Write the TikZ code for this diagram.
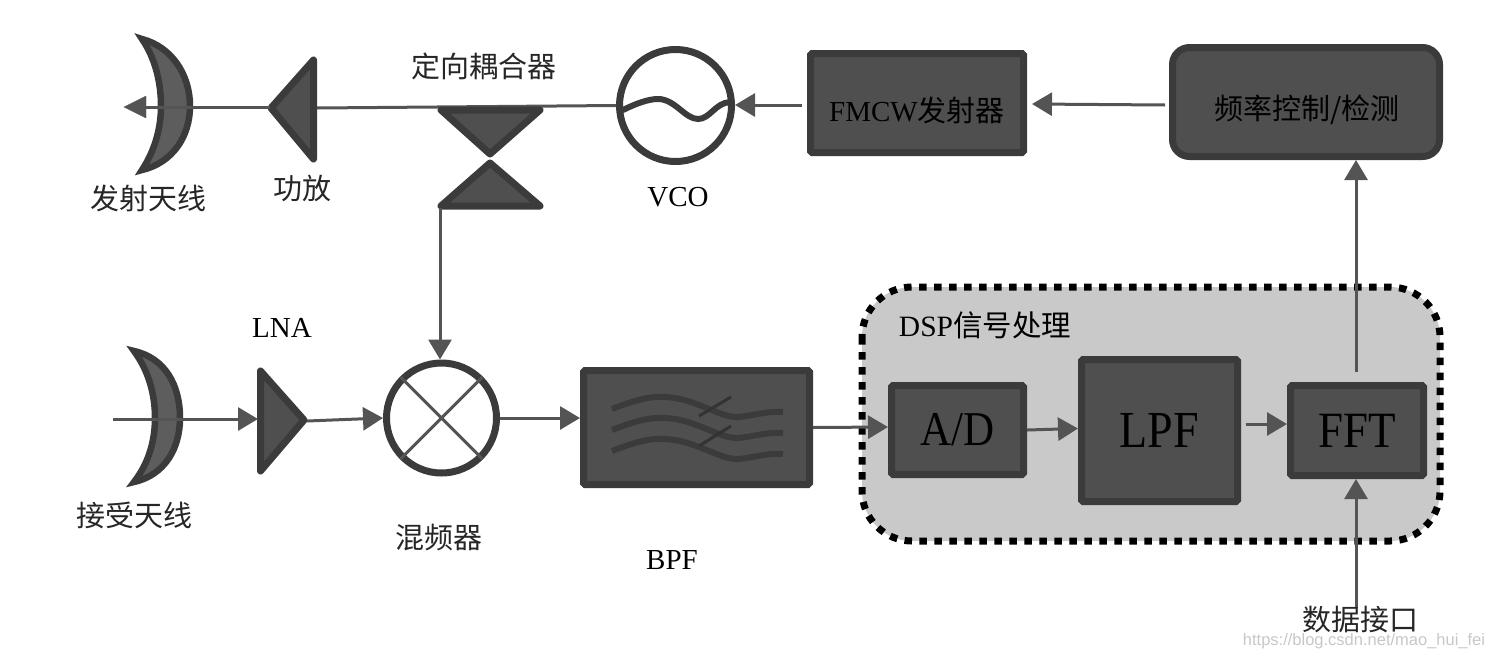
\documentclass[tikz,border=0pt]{standalone}
\usepackage{fontspec}
\usepackage{graphicx}
\setmainfont{Liberation Serif}
\setsansfont{Liberation Sans}
\newfontfamily\cjk{Noto Sans CJK SC}
\usetikzlibrary{arrows.meta}
\definecolor{fillg}{gray}{0.31}
\definecolor{edgeg}{gray}{0.23}
\definecolor{lineg}{gray}{0.33}
\definecolor{panelg}{gray}{0.79}
\newcommand{\tall}[1]{\scalebox{1}[1.13]{#1}}
\tikzset{
 box/.style={draw=edgeg,fill=fillg,line width=7pt,rounded corners=1.5pt,inner sep=0pt,text=black},
 sym/.style={draw=edgeg,fill=fillg,line width=7pt,line join=round},
 horn/.style={draw=edgeg,fill=fillg!92!white,line width=6.5pt,line join=miter,miter limit=3},
 ring/.style={draw=edgeg,line width=7pt,fill=white,circle,inner sep=0pt,minimum size=112pt},
 conn/.style={draw=lineg,line width=3pt,-{Triangle[length=20pt,width=23pt]}},
 plain/.style={draw=lineg,line width=3pt},
 wave/.style={draw=edgeg,line width=6pt},
 tick/.style={draw=black!80,line width=3pt},
 lab/.style={font=\fontsize{29}{31}\selectfont\cjk,text=black!85,inner sep=0pt},
 lat/.style={font=\fontsize{29}{31}\selectfont,text=black,inner sep=0pt},
}
\begin{document}
\begin{tikzpicture}[x=1pt,y=-1pt]
\useasboundingbox (0,0) rectangle (1488,659);
% DSP panel
\draw[fill=panelg,draw=black,line width=7pt,dash pattern=on 7.5pt off 7.5pt,rounded corners=50pt] (862,287) rectangle (1440,541);
% boxes
\node[box,minimum width=213pt,minimum height=99pt] (fmcw) at (917,103) {};
\node[lat,text=black] (fmcwT) at (917,110) {FMCW{\cjk 发射器}};
\node[box,rounded corners=17pt,minimum width=267pt,minimum height=109pt] (ctrl) at (1306,102) {};
\node[lab,text=black] (ctrlT) at (1307,110) {频率控制/检测};
\node[box,minimum width=226pt,minimum height=114pt] (bpf) at (696.5,427.5) {};
\node[box,minimum width=132pt,minimum height=89pt] (ad) at (957.5,430) {\tall{\fontsize{43}{45}\selectfont A/D}};
\node[box,minimum width=156pt,minimum height=142pt] (lpf) at (1159.5,430.5) {\tall{\fontsize{46}{48}\selectfont LPF}};
\node[box,minimum width=133pt,minimum height=90pt] (fft) at (1357,430.5) {\tall{\fontsize{45}{47}\selectfont FFT}};
% BPF waves
\foreach \dy in {0,21,42}{
 \draw[wave] (612,{409+\dy}) .. controls (635,{400+\dy}) and (650,{396+\dy}) .. (665,{397+\dy}) .. controls (695,{398+\dy}) and (720,{418+\dy}) .. (738,{417+\dy}) .. controls (752,{416+\dy}) and (765,{411+\dy}) .. (783,{412+\dy});
}
\draw[tick] (699,416) -- (731,397);
\draw[tick] (699,446) -- (731,426);
% antennas
\draw[horn] (142,39) .. controls (172,47) and (190,75) .. (190,106) .. controls (190,137) and (172,163) .. (142,170) .. controls (155,150) and (161,128) .. (161,106) .. controls (161,82) and (155,58) .. (142,39) -- cycle;
\draw[horn] (134,351) .. controls (165,358) and (180,385) .. (180,418) .. controls (180,448) and (165,475) .. (134,482) .. controls (148,464) and (155,442) .. (155,418) .. controls (155,393) and (148,370) .. (134,351) -- cycle;
% triangles
\draw[sym] (313.5,60) -- (271,108) -- (313.5,159) -- cycle;
\coordinate (paL) at (270,107); \coordinate (paR) at (317,108);
% connectors behind the coupler and the VCO
\node[ring] (vco) at (675.5,105.5) {};
\draw[plain] (paR) -- (vco.west);
\draw[sym] (441,110) -- (540,110) -- (490,154) -- cycle;
\draw[sym] (441,206) -- (540,206) -- (490,163) -- cycle; \coordinate (cplB) at (440,208);
\draw[sym] (260.5,371) -- (304,420) -- (260.5,471) -- cycle;
\coordinate (lnaL) at (258,419); \coordinate (lnaR) at (307,421);
% VCO wave
\draw[wave,line cap=round] (623,110) .. controls (635,104) and (648,99) .. (658,99) .. controls (675,99) and (685,119) .. (698,119) .. controls (710,119) and (715,103) .. (730,102);
% Mixer
\node[ring,minimum size=110pt] (mix) at (441.5,418) {};
\draw[plain] (mix.45) -- (mix.225) (mix.135) -- (mix.315);
% connectors
\coordinate (txEnd) at (146,107);
\coordinate (rxStart) at (113,419);
\coordinate (dataIn) at (1356,608);
\coordinate (fftOut) at (1356,372);
\coordinate (lpfOut) at (1246,424);
\coordinate (fmcwOut) at (802,105);
\coordinate (ctrlOut) at (1165,105);
\coordinate (ctrlIn) at (1032,104);
\draw[plain] (paL) -- (txEnd);
\draw[lineg,fill=lineg] (124,107) -- (146,96) -- (146,118) -- cycle;
\draw[conn] (fmcwOut) -- (vco.east |- fmcwOut);
\draw[conn] (ctrlOut) -- (ctrlIn);
\draw[conn] (cplB) -- (mix.north -| cplB);
\draw[conn] (rxStart) -- (lnaL);
\draw[conn] (lnaR) -- (mix.west);
\draw[conn] (mix.east) -- (bpf.west |- mix.east);
\draw[conn] (bpf.east) -- ([yshift=3pt]ad.west);
\draw[conn] (ad.east) -- ([yshift=2pt]lpf.west);
\draw[conn] (lpfOut) -- (fft.west |- lpfOut);
\draw[conn] (fftOut) -- (ctrl.south -| fftOut);
\draw[conn] (dataIn) -- (fft.south -| dataIn);
% labels
\node[lab] (l1) at (148,198) {发射天线};
\node[lab] (l2) at (302,188) {功放};
\node[lab] (l3) at (484,66) {定向耦合器};
\node[lat] (l4) at (678,197) {VCO};
\node[lat] (l5) at (282,328) {LNA};
\node[lab] (l6) at (134,515) {接受天线};
\node[lab] (l7) at (439,537) {混频器};
\node[lat] (l8) at (672,560) {BPF};
\node[font=\fontsize{29.5}{31}\selectfont,text=black,inner sep=0pt] (l9) at (985,325) {DSP{\cjk 信号处理}};
\node[lab] (l10) at (1360,619) {数据接口};
\node[font=\fontsize{16.5}{18}\selectfont\sffamily,text=black!22,inner sep=0pt] (wm) at (1364,641) {https://blog.csdn.net/mao\_hui\_fei};
\end{tikzpicture}
\end{document}
